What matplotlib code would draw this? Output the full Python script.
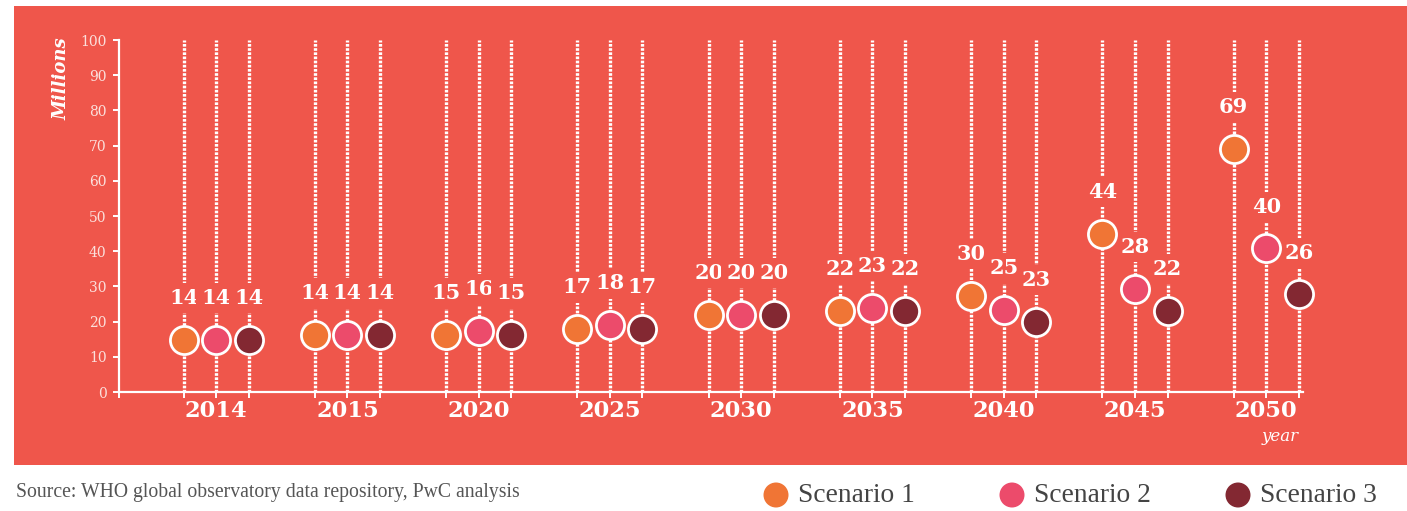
import matplotlib
matplotlib.use('Agg')
import matplotlib.pyplot as plt
from matplotlib.patches import Rectangle, Ellipse
import numpy as np

# data
years = ['2014', '2015', '2020', '2025', '2030', '2035', '2040', '2045', '2050']
scenario_names = ['Scenario 1', 'Scenario 2', 'Scenario 3']
# printed labels (millions)
labels_s1 = [14, 14, 15, 17, 20, 22, 30, 44, 69]
labels_s2 = [14, 14, 16, 18, 20, 23, 25, 28, 40]
labels_s3 = [14, 14, 15, 17, 20, 22, 23, 22, 26]
# where the circles sit on the axis
points_s1 = [14.8, 16.2, 16.2, 17.9, 21.9, 23.0, 27.3, 44.9, 69.0]
points_s2 = [14.8, 16.2, 17.3, 19.0, 21.9, 23.9, 23.3, 29.3, 40.8]
points_s3 = [14.8, 16.2, 16.2, 17.9, 21.9, 23.0, 20.0, 23.1, 27.7]
yticks = [0, 10, 20, 30, 40, 50, 60, 70, 80, 90, 100]

bg = '#EF564B'
colors = ['#F07535', '#EC4B6B', '#832832']
tick_col = '#FBE0DC'

fig = plt.figure(figsize=(14.07, 5.11), dpi=100)
fig.add_artist(Rectangle((14 / 1407, 46 / 511), 1 - 14 / 1407, 459 / 511,
                         transform=fig.transFigure, facecolor=bg,
                         edgecolor='none', zorder=-10))

ax = fig.add_axes([119 / 1407, 119 / 511, 1184 / 1407, 352 / 511])
ax.set_facecolor('none')
ax.set_ylim(0, 100)
ax.set_xlim(-0.74, 8.28)

offsets = [-0.248, 0.0, 0.248]
x = np.arange(len(years))
series = [(points_s1, labels_s1), (points_s2, labels_s2), (points_s3, labels_s3)]

line_x = []
for k, (pts, labs) in enumerate(series):
    xs = x + offsets[k]
    line_x.extend(xs)
    for xi, yi, lab in zip(xs, pts, labs):
        # dotted guide line
        ax.plot([xi, xi], [0, 100], color='white', lw=2.4,
                linestyle=(0, (0.8, 0.45)), zorder=1, solid_capstyle='butt')
        ax.annotate(str(lab), (xi, yi), xytext=(0, 30), textcoords='offset points',
                    ha='center', va='center', color='white', fontsize=15,
                    fontweight='bold', family='DejaVu Serif', zorder=3,
                    bbox=dict(boxstyle='square,pad=0.25', facecolor=bg, edgecolor='none'))
    ax.scatter(xs, pts, s=410, color=colors[k], edgecolors='white',
               linewidths=2.0, zorder=4, clip_on=False)

for sp in ['top', 'right']:
    ax.spines[sp].set_visible(False)
for sp in ['left', 'bottom']:
    ax.spines[sp].set_color('white')
    ax.spines[sp].set_linewidth(1.6)

ax.set_yticks(yticks)
ax.set_yticklabels([str(v) for v in yticks], family='DejaVu Serif',
                   fontsize=10, color=tick_col)
ax.tick_params(axis='y', colors='white', length=4, width=1.4, pad=5,
               labelcolor=tick_col)
ax.set_xticks([-0.74] + sorted(line_x))
ax.set_xticklabels([])
ax.tick_params(axis='x', colors='white', length=4, width=1.4)

for xi, yr in zip(x, years):
    ax.annotate(yr, (xi, 0), xytext=(0, -14), textcoords='offset points',
                ha='center', va='center', color='white', fontsize=16.3,
                fontweight='bold', family='DejaVu Serif')
ax.annotate('year', (8.28, 0), xytext=(-3, -32), textcoords='offset points',
            ha='right', va='center', color='white', fontsize=12,
            style='italic', family='DejaVu Serif')
fig.text(62 / 1407, 1 - 79 / 511, 'Millions', rotation=90, ha='center', va='center',
         color='white', fontsize=13, style='italic', fontweight='bold',
         family='DejaVu Serif')

# footer
fig.text(16 / 1407, 1 - 492 / 511, 'Source: WHO global observatory data repository, PwC analysis',
         ha='left', va='center', color='#555555', fontsize=14.2, family='Liberation Serif')
leg_x = [776, 1012, 1238]
for lx, name, c in zip(leg_x, scenario_names, colors):
    fig.add_artist(Ellipse((lx / 1407, 1 - 495 / 511), 25 / 1407, 25 / 511,
                           transform=fig.transFigure, facecolor=c,
                           edgecolor='none'))
    fig.text((lx + 22) / 1407, 1 - 495 / 511, name, ha='left', va='center',
             color='#444444', fontsize=19.8, family='Liberation Serif')

fig.savefig('out.png', dpi=100)
